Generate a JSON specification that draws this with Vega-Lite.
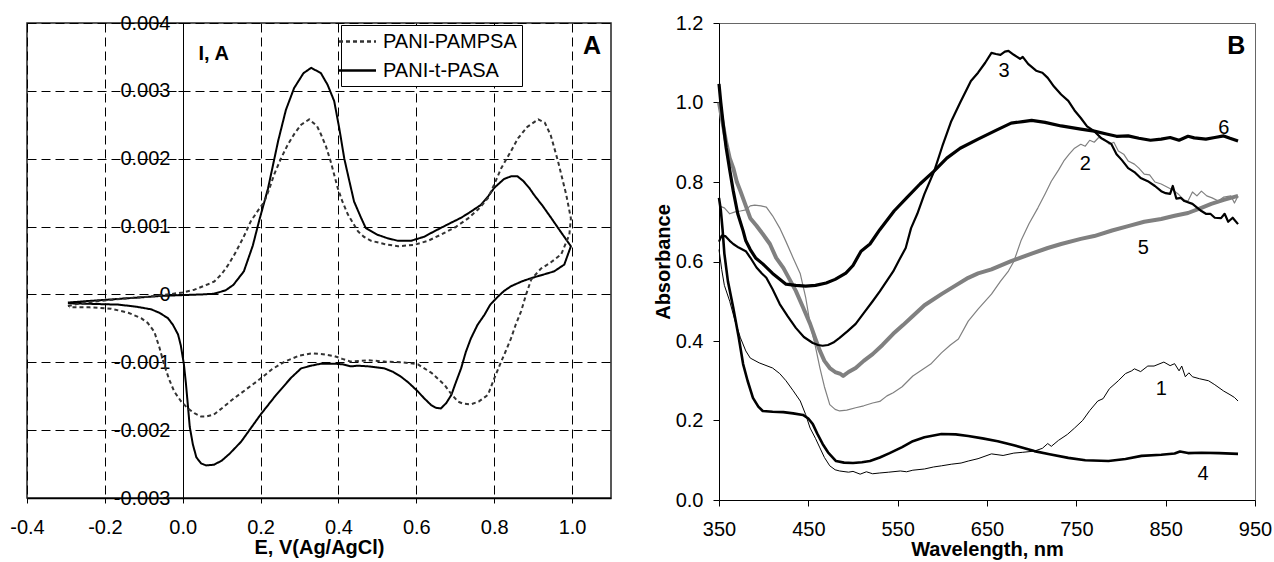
{
"$schema": "https://vega.github.io/schema/vega-lite/v6.json",
"background": "white",
"padding": {"left": 9, "top": 12, "right": 3, "bottom": 3},
"spacing": 40,
"resolve": {"scale": {"color": "independent", "strokeDash": "independent"}, "legend": {"color": "independent", "strokeDash": "independent"}},
"config": {
  "font": "Liberation Sans",
  "view": {"stroke": null},
  "axis": {"labelFont": "Liberation Sans", "titleFont": "Liberation Sans", "labelColor": "black", "titleColor": "black", "domainColor": "black", "tickColor": "black", "labelFontSize": 20, "titleFontSize": 20, "titleFontWeight": "bold", "labelFlush": false},
  "text": {"font": "Liberation Sans", "color": "black"}
},
"datasets": {
  "cv": [
{"s":"PANI-t-PASA","i":1,"E":-0.295,"I":-0.00012},{"s":"PANI-t-PASA","i":2,"E":-0.25,"I":-0.0001},{"s":"PANI-t-PASA","i":3,"E":-0.2,"I":-0.00008},{"s":"PANI-t-PASA","i":4,"E":-0.15,"I":-0.00006},{"s":"PANI-t-PASA","i":5,"E":-0.1,"I":-0.00004},{"s":"PANI-t-PASA","i":6,"E":-0.05,"I":-0.00002},{"s":"PANI-t-PASA","i":7,"E":0.0,"I":-0.00001},{"s":"PANI-t-PASA","i":8,"E":0.05,"I":0.0},{"s":"PANI-t-PASA","i":9,"E":0.08,"I":0.00001},{"s":"PANI-t-PASA","i":10,"E":0.11,"I":0.00006},{"s":"PANI-t-PASA","i":11,"E":0.13,"I":0.00014},{"s":"PANI-t-PASA","i":12,"E":0.157,"I":0.00034},{"s":"PANI-t-PASA","i":13,"E":0.18,"I":0.00072},{"s":"PANI-t-PASA","i":14,"E":0.196,"I":0.00108},{"s":"PANI-t-PASA","i":15,"E":0.219,"I":0.00156},{"s":"PANI-t-PASA","i":16,"E":0.245,"I":0.00226},{"s":"PANI-t-PASA","i":17,"E":0.265,"I":0.00272},{"s":"PANI-t-PASA","i":18,"E":0.286,"I":0.00304},{"s":"PANI-t-PASA","i":19,"E":0.31,"I":0.00326},{"s":"PANI-t-PASA","i":20,"E":0.33,"I":0.00334},{"s":"PANI-t-PASA","i":21,"E":0.355,"I":0.00326},{"s":"PANI-t-PASA","i":22,"E":0.372,"I":0.00309},{"s":"PANI-t-PASA","i":23,"E":0.389,"I":0.00285},{"s":"PANI-t-PASA","i":24,"E":0.402,"I":0.00245},{"s":"PANI-t-PASA","i":25,"E":0.415,"I":0.002},{"s":"PANI-t-PASA","i":26,"E":0.428,"I":0.00167},{"s":"PANI-t-PASA","i":27,"E":0.44,"I":0.00137},{"s":"PANI-t-PASA","i":28,"E":0.458,"I":0.00113},{"s":"PANI-t-PASA","i":29,"E":0.47,"I":0.00098},{"s":"PANI-t-PASA","i":30,"E":0.5,"I":0.00088},{"s":"PANI-t-PASA","i":31,"E":0.525,"I":0.00083},{"s":"PANI-t-PASA","i":32,"E":0.553,"I":0.00079},{"s":"PANI-t-PASA","i":33,"E":0.586,"I":0.00079},{"s":"PANI-t-PASA","i":34,"E":0.62,"I":0.00085},{"s":"PANI-t-PASA","i":35,"E":0.646,"I":0.00093},{"s":"PANI-t-PASA","i":36,"E":0.68,"I":0.00103},{"s":"PANI-t-PASA","i":37,"E":0.715,"I":0.00113},{"s":"PANI-t-PASA","i":38,"E":0.74,"I":0.00122},{"s":"PANI-t-PASA","i":39,"E":0.766,"I":0.00132},{"s":"PANI-t-PASA","i":40,"E":0.785,"I":0.00145},{"s":"PANI-t-PASA","i":41,"E":0.8,"I":0.00157},{"s":"PANI-t-PASA","i":42,"E":0.825,"I":0.0017},{"s":"PANI-t-PASA","i":43,"E":0.843,"I":0.00174},{"s":"PANI-t-PASA","i":44,"E":0.86,"I":0.00174},{"s":"PANI-t-PASA","i":45,"E":0.875,"I":0.00167},{"s":"PANI-t-PASA","i":46,"E":0.89,"I":0.00157},{"s":"PANI-t-PASA","i":47,"E":0.902,"I":0.00147},{"s":"PANI-t-PASA","i":48,"E":0.925,"I":0.0013},{"s":"PANI-t-PASA","i":49,"E":0.946,"I":0.00113},{"s":"PANI-t-PASA","i":50,"E":0.97,"I":0.00093},{"s":"PANI-t-PASA","i":51,"E":0.997,"I":0.00071},
{"s":"PANI-t-PASA","i":52,"E":0.98,"I":0.00044},{"s":"PANI-t-PASA","i":53,"E":0.954,"I":0.00034},{"s":"PANI-t-PASA","i":54,"E":0.925,"I":0.00029},{"s":"PANI-t-PASA","i":55,"E":0.895,"I":0.00024},{"s":"PANI-t-PASA","i":56,"E":0.87,"I":0.00019},{"s":"PANI-t-PASA","i":57,"E":0.843,"I":0.00012},{"s":"PANI-t-PASA","i":58,"E":0.825,"I":0.00005},{"s":"PANI-t-PASA","i":59,"E":0.81,"I":-0.00003},{"s":"PANI-t-PASA","i":60,"E":0.79,"I":-0.00015},{"s":"PANI-t-PASA","i":61,"E":0.775,"I":-0.0003},{"s":"PANI-t-PASA","i":62,"E":0.757,"I":-0.00045},{"s":"PANI-t-PASA","i":63,"E":0.74,"I":-0.00065},{"s":"PANI-t-PASA","i":64,"E":0.727,"I":-0.00085},{"s":"PANI-t-PASA","i":65,"E":0.715,"I":-0.00109},{"s":"PANI-t-PASA","i":66,"E":0.7,"I":-0.00132},{"s":"PANI-t-PASA","i":67,"E":0.69,"I":-0.00148},{"s":"PANI-t-PASA","i":68,"E":0.677,"I":-0.0016},{"s":"PANI-t-PASA","i":69,"E":0.663,"I":-0.00168},{"s":"PANI-t-PASA","i":70,"E":0.65,"I":-0.00167},{"s":"PANI-t-PASA","i":71,"E":0.638,"I":-0.00163},{"s":"PANI-t-PASA","i":72,"E":0.62,"I":-0.00153},{"s":"PANI-t-PASA","i":73,"E":0.604,"I":-0.00143},{"s":"PANI-t-PASA","i":74,"E":0.58,"I":-0.0013},{"s":"PANI-t-PASA","i":75,"E":0.56,"I":-0.00121},{"s":"PANI-t-PASA","i":76,"E":0.54,"I":-0.00114},{"s":"PANI-t-PASA","i":77,"E":0.518,"I":-0.00109},{"s":"PANI-t-PASA","i":78,"E":0.476,"I":-0.00106},{"s":"PANI-t-PASA","i":79,"E":0.45,"I":-0.00105},{"s":"PANI-t-PASA","i":80,"E":0.432,"I":-0.00106},{"s":"PANI-t-PASA","i":81,"E":0.41,"I":-0.00103},{"s":"PANI-t-PASA","i":82,"E":0.39,"I":-0.00102},{"s":"PANI-t-PASA","i":83,"E":0.355,"I":-0.00102},{"s":"PANI-t-PASA","i":84,"E":0.33,"I":-0.00105},{"s":"PANI-t-PASA","i":85,"E":0.304,"I":-0.00109},{"s":"PANI-t-PASA","i":86,"E":0.278,"I":-0.00123},{"s":"PANI-t-PASA","i":87,"E":0.24,"I":-0.00148},{"s":"PANI-t-PASA","i":88,"E":0.2,"I":-0.00177},{"s":"PANI-t-PASA","i":89,"E":0.175,"I":-0.00197},{"s":"PANI-t-PASA","i":90,"E":0.15,"I":-0.00217},{"s":"PANI-t-PASA","i":91,"E":0.12,"I":-0.00235},{"s":"PANI-t-PASA","i":92,"E":0.1,"I":-0.00245},{"s":"PANI-t-PASA","i":93,"E":0.08,"I":-0.00251},{"s":"PANI-t-PASA","i":94,"E":0.06,"I":-0.00252},{"s":"PANI-t-PASA","i":95,"E":0.047,"I":-0.00249},{"s":"PANI-t-PASA","i":96,"E":0.035,"I":-0.0024},{"s":"PANI-t-PASA","i":97,"E":0.026,"I":-0.00221},{"s":"PANI-t-PASA","i":98,"E":0.018,"I":-0.00195},{"s":"PANI-t-PASA","i":99,"E":0.013,"I":-0.00162},{"s":"PANI-t-PASA","i":100,"E":0.008,"I":-0.0013},{"s":"PANI-t-PASA","i":101,"E":0.003,"I":-0.00103},{"s":"PANI-t-PASA","i":102,"E":-0.005,"I":-0.00075},{"s":"PANI-t-PASA","i":103,"E":-0.012,"I":-0.00059},{"s":"PANI-t-PASA","i":104,"E":-0.025,"I":-0.00045},{"s":"PANI-t-PASA","i":105,"E":-0.038,"I":-0.00035},{"s":"PANI-t-PASA","i":106,"E":-0.06,"I":-0.00027},{"s":"PANI-t-PASA","i":107,"E":-0.081,"I":-0.00022},{"s":"PANI-t-PASA","i":108,"E":-0.12,"I":-0.00018},{"s":"PANI-t-PASA","i":109,"E":-0.166,"I":-0.00015},{"s":"PANI-t-PASA","i":110,"E":-0.23,"I":-0.00014},{"s":"PANI-t-PASA","i":111,"E":-0.295,"I":-0.00013},
{"s":"PANI-PAMPSA","i":1,"E":-0.295,"I":-0.00017},{"s":"PANI-PAMPSA","i":2,"E":-0.25,"I":-0.00012},{"s":"PANI-PAMPSA","i":3,"E":-0.2,"I":-0.00009},{"s":"PANI-PAMPSA","i":4,"E":-0.15,"I":-0.00006},{"s":"PANI-PAMPSA","i":5,"E":-0.1,"I":-0.00004},{"s":"PANI-PAMPSA","i":6,"E":-0.05,"I":-0.00001},{"s":"PANI-PAMPSA","i":7,"E":0.0,"I":0.00003},{"s":"PANI-PAMPSA","i":8,"E":0.03,"I":0.00007},{"s":"PANI-PAMPSA","i":9,"E":0.065,"I":0.00015},{"s":"PANI-PAMPSA","i":10,"E":0.081,"I":0.00019},{"s":"PANI-PAMPSA","i":11,"E":0.1,"I":0.0003},{"s":"PANI-PAMPSA","i":12,"E":0.115,"I":0.00042},{"s":"PANI-PAMPSA","i":13,"E":0.133,"I":0.00059},{"s":"PANI-PAMPSA","i":14,"E":0.155,"I":0.00083},{"s":"PANI-PAMPSA","i":15,"E":0.175,"I":0.00108},{"s":"PANI-PAMPSA","i":16,"E":0.195,"I":0.00125},{"s":"PANI-PAMPSA","i":17,"E":0.21,"I":0.00137},{"s":"PANI-PAMPSA","i":18,"E":0.222,"I":0.00155},{"s":"PANI-PAMPSA","i":19,"E":0.235,"I":0.00177},{"s":"PANI-PAMPSA","i":20,"E":0.252,"I":0.002},{"s":"PANI-PAMPSA","i":21,"E":0.27,"I":0.00221},{"s":"PANI-PAMPSA","i":22,"E":0.287,"I":0.00237},{"s":"PANI-PAMPSA","i":23,"E":0.304,"I":0.0025},{"s":"PANI-PAMPSA","i":24,"E":0.325,"I":0.00258},{"s":"PANI-PAMPSA","i":25,"E":0.345,"I":0.00248},{"s":"PANI-PAMPSA","i":26,"E":0.355,"I":0.00236},{"s":"PANI-PAMPSA","i":27,"E":0.368,"I":0.00218},{"s":"PANI-PAMPSA","i":28,"E":0.38,"I":0.00196},{"s":"PANI-PAMPSA","i":29,"E":0.398,"I":0.00157},{"s":"PANI-PAMPSA","i":30,"E":0.41,"I":0.00137},{"s":"PANI-PAMPSA","i":31,"E":0.424,"I":0.00118},{"s":"PANI-PAMPSA","i":32,"E":0.45,"I":0.00093},{"s":"PANI-PAMPSA","i":33,"E":0.465,"I":0.00085},{"s":"PANI-PAMPSA","i":34,"E":0.484,"I":0.00079},{"s":"PANI-PAMPSA","i":35,"E":0.52,"I":0.00074},{"s":"PANI-PAMPSA","i":36,"E":0.553,"I":0.00071},{"s":"PANI-PAMPSA","i":37,"E":0.594,"I":0.00073},{"s":"PANI-PAMPSA","i":38,"E":0.63,"I":0.00079},{"s":"PANI-PAMPSA","i":39,"E":0.663,"I":0.00088},{"s":"PANI-PAMPSA","i":40,"E":0.7,"I":0.00099},{"s":"PANI-PAMPSA","i":41,"E":0.733,"I":0.00112},{"s":"PANI-PAMPSA","i":42,"E":0.76,"I":0.00126},{"s":"PANI-PAMPSA","i":43,"E":0.784,"I":0.00142},{"s":"PANI-PAMPSA","i":44,"E":0.8,"I":0.00162},{"s":"PANI-PAMPSA","i":45,"E":0.818,"I":0.00186},{"s":"PANI-PAMPSA","i":46,"E":0.84,"I":0.00208},{"s":"PANI-PAMPSA","i":47,"E":0.861,"I":0.0023},{"s":"PANI-PAMPSA","i":48,"E":0.885,"I":0.00247},{"s":"PANI-PAMPSA","i":49,"E":0.913,"I":0.00258},{"s":"PANI-PAMPSA","i":50,"E":0.93,"I":0.00253},{"s":"PANI-PAMPSA","i":51,"E":0.945,"I":0.00235},{"s":"PANI-PAMPSA","i":52,"E":0.964,"I":0.00196},{"s":"PANI-PAMPSA","i":53,"E":0.985,"I":0.00147},{"s":"PANI-PAMPSA","i":54,"E":0.997,"I":0.00112},
{"s":"PANI-PAMPSA","i":55,"E":0.993,"I":0.00088},{"s":"PANI-PAMPSA","i":56,"E":0.972,"I":0.00059},{"s":"PANI-PAMPSA","i":57,"E":0.945,"I":0.00047},{"s":"PANI-PAMPSA","i":58,"E":0.92,"I":0.00038},{"s":"PANI-PAMPSA","i":59,"E":0.895,"I":0.00022},{"s":"PANI-PAMPSA","i":60,"E":0.882,"I":0.0},{"s":"PANI-PAMPSA","i":61,"E":0.869,"I":-0.00025},{"s":"PANI-PAMPSA","i":62,"E":0.855,"I":-0.00045},{"s":"PANI-PAMPSA","i":63,"E":0.843,"I":-0.00065},{"s":"PANI-PAMPSA","i":64,"E":0.83,"I":-0.00083},{"s":"PANI-PAMPSA","i":65,"E":0.818,"I":-0.00099},{"s":"PANI-PAMPSA","i":66,"E":0.8,"I":-0.00124},{"s":"PANI-PAMPSA","i":67,"E":0.784,"I":-0.00148},{"s":"PANI-PAMPSA","i":68,"E":0.76,"I":-0.00158},{"s":"PANI-PAMPSA","i":69,"E":0.74,"I":-0.00162},{"s":"PANI-PAMPSA","i":70,"E":0.72,"I":-0.00161},{"s":"PANI-PAMPSA","i":71,"E":0.707,"I":-0.00158},{"s":"PANI-PAMPSA","i":72,"E":0.69,"I":-0.00147},{"s":"PANI-PAMPSA","i":73,"E":0.672,"I":-0.00133},{"s":"PANI-PAMPSA","i":74,"E":0.64,"I":-0.00116},{"s":"PANI-PAMPSA","i":75,"E":0.604,"I":-0.00103},{"s":"PANI-PAMPSA","i":76,"E":0.58,"I":-0.00101},{"s":"PANI-PAMPSA","i":77,"E":0.56,"I":-0.001},{"s":"PANI-PAMPSA","i":78,"E":0.52,"I":-0.00099},{"s":"PANI-PAMPSA","i":79,"E":0.476,"I":-0.00097},{"s":"PANI-PAMPSA","i":80,"E":0.432,"I":-0.00099},{"s":"PANI-PAMPSA","i":81,"E":0.41,"I":-0.00095},{"s":"PANI-PAMPSA","i":82,"E":0.39,"I":-0.00091},{"s":"PANI-PAMPSA","i":83,"E":0.36,"I":-0.00088},{"s":"PANI-PAMPSA","i":84,"E":0.33,"I":-0.00087},{"s":"PANI-PAMPSA","i":85,"E":0.3,"I":-0.0009},{"s":"PANI-PAMPSA","i":86,"E":0.262,"I":-0.00099},{"s":"PANI-PAMPSA","i":87,"E":0.23,"I":-0.0011},{"s":"PANI-PAMPSA","i":88,"E":0.2,"I":-0.00124},{"s":"PANI-PAMPSA","i":89,"E":0.165,"I":-0.00139},{"s":"PANI-PAMPSA","i":90,"E":0.132,"I":-0.00153},{"s":"PANI-PAMPSA","i":91,"E":0.1,"I":-0.00168},{"s":"PANI-PAMPSA","i":92,"E":0.08,"I":-0.00177},{"s":"PANI-PAMPSA","i":93,"E":0.06,"I":-0.0018},{"s":"PANI-PAMPSA","i":94,"E":0.047,"I":-0.0018},{"s":"PANI-PAMPSA","i":95,"E":0.03,"I":-0.00175},{"s":"PANI-PAMPSA","i":96,"E":0.013,"I":-0.00168},{"s":"PANI-PAMPSA","i":97,"E":-0.005,"I":-0.00157},{"s":"PANI-PAMPSA","i":98,"E":-0.022,"I":-0.00143},{"s":"PANI-PAMPSA","i":99,"E":-0.035,"I":-0.00125},{"s":"PANI-PAMPSA","i":100,"E":-0.048,"I":-0.00103},{"s":"PANI-PAMPSA","i":101,"E":-0.06,"I":-0.00078},{"s":"PANI-PAMPSA","i":102,"E":-0.073,"I":-0.00055},{"s":"PANI-PAMPSA","i":103,"E":-0.09,"I":-0.00042},{"s":"PANI-PAMPSA","i":104,"E":-0.107,"I":-0.00035},{"s":"PANI-PAMPSA","i":105,"E":-0.14,"I":-0.00027},{"s":"PANI-PAMPSA","i":106,"E":-0.184,"I":-0.00021},{"s":"PANI-PAMPSA","i":107,"E":-0.24,"I":-0.00019},{"s":"PANI-PAMPSA","i":108,"E":-0.292,"I":-0.00019}
  ],
  "labA": [{"t":"A","E":1.051,"I":0.00366}],
  "uv": [
{"c":"2","wl":350,"abs":0.74},{"c":"2","wl":356,"abs":0.735},{"c":"2","wl":362,"abs":0.72},{"c":"2","wl":368,"abs":0.725},{"c":"2","wl":374,"abs":0.727},{"c":"2","wl":380,"abs":0.73},{"c":"2","wl":385,"abs":0.74},{"c":"2","wl":390,"abs":0.742},{"c":"2","wl":397,"abs":0.74},{"c":"2","wl":403,"abs":0.737},{"c":"2","wl":410,"abs":0.715},{"c":"2","wl":418,"abs":0.684},{"c":"2","wl":425,"abs":0.65},{"c":"2","wl":433,"abs":0.609},{"c":"2","wl":441,"abs":0.569},{"c":"2","wl":447,"abs":0.51},{"c":"2","wl":452,"abs":0.443},{"c":"2","wl":458,"abs":0.385},{"c":"2","wl":463,"abs":0.332},{"c":"2","wl":468,"abs":0.285},{"c":"2","wl":474,"abs":0.24},{"c":"2","wl":480,"abs":0.228},{"c":"2","wl":485,"abs":0.224},{"c":"2","wl":493,"abs":0.226},{"c":"2","wl":503,"abs":0.232},{"c":"2","wl":512,"abs":0.237},{"c":"2","wl":522,"abs":0.244},{"c":"2","wl":530,"abs":0.248},{"c":"2","wl":538,"abs":0.262},{"c":"2","wl":545,"abs":0.27},{"c":"2","wl":555,"abs":0.285},{"c":"2","wl":567,"abs":0.312},{"c":"2","wl":577,"abs":0.327},{"c":"2","wl":587,"abs":0.342},{"c":"2","wl":599,"abs":0.37},{"c":"2","wl":609,"abs":0.39},{"c":"2","wl":618,"abs":0.405},{"c":"2","wl":629,"abs":0.45},{"c":"2","wl":640,"abs":0.48},{"c":"2","wl":655,"abs":0.518},{"c":"2","wl":665,"abs":0.55},{"c":"2","wl":674,"abs":0.576},{"c":"2","wl":680,"abs":0.6},{"c":"2","wl":688,"abs":0.652},{"c":"2","wl":697,"abs":0.695},{"c":"2","wl":707,"abs":0.735},{"c":"2","wl":715,"abs":0.77},{"c":"2","wl":722,"abs":0.802},{"c":"2","wl":730,"abs":0.83},{"c":"2","wl":736,"abs":0.853},{"c":"2","wl":742,"abs":0.87},{"c":"2","wl":748,"abs":0.885},{"c":"2","wl":755,"abs":0.895},{"c":"2","wl":760,"abs":0.89},{"c":"2","wl":765,"abs":0.905},{"c":"2","wl":770,"abs":0.9},{"c":"2","wl":775,"abs":0.912},{"c":"2","wl":781,"abs":0.908},{"c":"2","wl":787,"abs":0.895},{"c":"2","wl":792,"abs":0.9},{"c":"2","wl":797,"abs":0.878},{"c":"2","wl":803,"abs":0.87},{"c":"2","wl":808,"abs":0.853},{"c":"2","wl":815,"abs":0.845},{"c":"2","wl":820,"abs":0.835},{"c":"2","wl":826,"abs":0.82},{"c":"2","wl":832,"abs":0.818},{"c":"2","wl":838,"abs":0.8},{"c":"2","wl":845,"abs":0.795},{"c":"2","wl":852,"abs":0.787},{"c":"2","wl":858,"abs":0.78},{"c":"2","wl":864,"abs":0.77},{"c":"2","wl":870,"abs":0.755},{"c":"2","wl":875,"abs":0.752},{"c":"2","wl":880,"abs":0.775},{"c":"2","wl":885,"abs":0.765},{"c":"2","wl":890,"abs":0.777},{"c":"2","wl":896,"abs":0.765},{"c":"2","wl":902,"abs":0.76},{"c":"2","wl":909,"abs":0.752},{"c":"2","wl":915,"abs":0.762},{"c":"2","wl":923,"abs":0.765},{"c":"2","wl":927,"abs":0.747},{"c":"2","wl":931,"abs":0.765},
{"c":"5","wl":350,"abs":1.0},{"c":"5","wl":354,"abs":0.95},{"c":"5","wl":358,"abs":0.9},{"c":"5","wl":362,"abs":0.86},{"c":"5","wl":366,"abs":0.835},{"c":"5","wl":370,"abs":0.8},{"c":"5","wl":374,"abs":0.777},{"c":"5","wl":380,"abs":0.74},{"c":"5","wl":385,"abs":0.709},{"c":"5","wl":392,"abs":0.69},{"c":"5","wl":399,"abs":0.669},{"c":"5","wl":407,"abs":0.644},{"c":"5","wl":414,"abs":0.609},{"c":"5","wl":422,"abs":0.584},{"c":"5","wl":429,"abs":0.555},{"c":"5","wl":436,"abs":0.526},{"c":"5","wl":444,"abs":0.485},{"c":"5","wl":452,"abs":0.443},{"c":"5","wl":458,"abs":0.405},{"c":"5","wl":463,"abs":0.375},{"c":"5","wl":468,"abs":0.35},{"c":"5","wl":474,"abs":0.332},{"c":"5","wl":480,"abs":0.322},{"c":"5","wl":486,"abs":0.317},{"c":"5","wl":489,"abs":0.312},{"c":"5","wl":495,"abs":0.322},{"c":"5","wl":503,"abs":0.332},{"c":"5","wl":512,"abs":0.35},{"c":"5","wl":522,"abs":0.367},{"c":"5","wl":533,"abs":0.39},{"c":"5","wl":545,"abs":0.418},{"c":"5","wl":556,"abs":0.44},{"c":"5","wl":567,"abs":0.463},{"c":"5","wl":580,"abs":0.49},{"c":"5","wl":599,"abs":0.518},{"c":"5","wl":615,"abs":0.54},{"c":"5","wl":629,"abs":0.559},{"c":"5","wl":640,"abs":0.57},{"c":"5","wl":655,"abs":0.58},{"c":"5","wl":677,"abs":0.601},{"c":"5","wl":700,"abs":0.62},{"c":"5","wl":718,"abs":0.634},{"c":"5","wl":733,"abs":0.644},{"c":"5","wl":755,"abs":0.657},{"c":"5","wl":770,"abs":0.664},{"c":"5","wl":790,"abs":0.678},{"c":"5","wl":808,"abs":0.689},{"c":"5","wl":826,"abs":0.7},{"c":"5","wl":845,"abs":0.707},{"c":"5","wl":860,"abs":0.715},{"c":"5","wl":875,"abs":0.722},{"c":"5","wl":890,"abs":0.735},{"c":"5","wl":901,"abs":0.745},{"c":"5","wl":915,"abs":0.755},{"c":"5","wl":931,"abs":0.765},
{"c":"1","wl":350,"abs":0.63},{"c":"1","wl":353,"abs":0.58},{"c":"1","wl":356,"abs":0.54},{"c":"1","wl":362,"abs":0.5},{"c":"1","wl":368,"abs":0.45},{"c":"1","wl":374,"abs":0.408},{"c":"1","wl":380,"abs":0.375},{"c":"1","wl":385,"abs":0.357},{"c":"1","wl":395,"abs":0.345},{"c":"1","wl":410,"abs":0.332},{"c":"1","wl":418,"abs":0.318},{"c":"1","wl":425,"abs":0.3},{"c":"1","wl":433,"abs":0.275},{"c":"1","wl":441,"abs":0.249},{"c":"1","wl":447,"abs":0.215},{"c":"1","wl":452,"abs":0.181},{"c":"1","wl":458,"abs":0.155},{"c":"1","wl":463,"abs":0.131},{"c":"1","wl":468,"abs":0.107},{"c":"1","wl":474,"abs":0.086},{"c":"1","wl":480,"abs":0.076},{"c":"1","wl":485,"abs":0.073},{"c":"1","wl":495,"abs":0.07},{"c":"1","wl":500,"abs":0.072},{"c":"1","wl":508,"abs":0.065},{"c":"1","wl":515,"abs":0.071},{"c":"1","wl":522,"abs":0.066},{"c":"1","wl":530,"abs":0.068},{"c":"1","wl":540,"abs":0.07},{"c":"1","wl":553,"abs":0.073},{"c":"1","wl":560,"abs":0.071},{"c":"1","wl":567,"abs":0.075},{"c":"1","wl":580,"abs":0.078},{"c":"1","wl":590,"abs":0.083},{"c":"1","wl":599,"abs":0.086},{"c":"1","wl":610,"abs":0.09},{"c":"1","wl":621,"abs":0.093},{"c":"1","wl":629,"abs":0.098},{"c":"1","wl":640,"abs":0.104},{"c":"1","wl":655,"abs":0.116},{"c":"1","wl":668,"abs":0.112},{"c":"1","wl":680,"abs":0.118},{"c":"1","wl":690,"abs":0.12},{"c":"1","wl":703,"abs":0.123},{"c":"1","wl":712,"abs":0.13},{"c":"1","wl":718,"abs":0.142},{"c":"1","wl":722,"abs":0.135},{"c":"1","wl":730,"abs":0.15},{"c":"1","wl":740,"abs":0.165},{"c":"1","wl":748,"abs":0.181},{"c":"1","wl":757,"abs":0.2},{"c":"1","wl":765,"abs":0.225},{"c":"1","wl":774,"abs":0.249},{"c":"1","wl":780,"abs":0.255},{"c":"1","wl":787,"abs":0.28},{"c":"1","wl":797,"abs":0.3},{"c":"1","wl":805,"abs":0.318},{"c":"1","wl":812,"abs":0.325},{"c":"1","wl":815,"abs":0.33},{"c":"1","wl":822,"abs":0.323},{"c":"1","wl":830,"abs":0.337},{"c":"1","wl":837,"abs":0.337},{"c":"1","wl":848,"abs":0.347},{"c":"1","wl":855,"abs":0.338},{"c":"1","wl":860,"abs":0.343},{"c":"1","wl":865,"abs":0.325},{"c":"1","wl":868,"abs":0.337},{"c":"1","wl":872,"abs":0.31},{"c":"1","wl":876,"abs":0.32},{"c":"1","wl":880,"abs":0.31},{"c":"1","wl":888,"abs":0.305},{"c":"1","wl":898,"abs":0.3},{"c":"1","wl":905,"abs":0.29},{"c":"1","wl":915,"abs":0.274},{"c":"1","wl":922,"abs":0.265},{"c":"1","wl":927,"abs":0.258},{"c":"1","wl":931,"abs":0.249},
{"c":"4","wl":350,"abs":0.76},{"c":"4","wl":352,"abs":0.73},{"c":"4","wl":354,"abs":0.68},{"c":"4","wl":356,"abs":0.62},{"c":"4","wl":360,"abs":0.55},{"c":"4","wl":366,"abs":0.483},{"c":"4","wl":372,"abs":0.41},{"c":"4","wl":377,"abs":0.342},{"c":"4","wl":382,"abs":0.3},{"c":"4","wl":388,"abs":0.257},{"c":"4","wl":394,"abs":0.235},{"c":"4","wl":399,"abs":0.224},{"c":"4","wl":410,"abs":0.222},{"c":"4","wl":422,"abs":0.221},{"c":"4","wl":433,"abs":0.218},{"c":"4","wl":444,"abs":0.214},{"c":"4","wl":450,"abs":0.205},{"c":"4","wl":455,"abs":0.191},{"c":"4","wl":460,"abs":0.167},{"c":"4","wl":466,"abs":0.141},{"c":"4","wl":472,"abs":0.12},{"c":"4","wl":481,"abs":0.098},{"c":"4","wl":490,"abs":0.094},{"c":"4","wl":500,"abs":0.093},{"c":"4","wl":510,"abs":0.095},{"c":"4","wl":519,"abs":0.098},{"c":"4","wl":530,"abs":0.107},{"c":"4","wl":541,"abs":0.118},{"c":"4","wl":555,"abs":0.133},{"c":"4","wl":567,"abs":0.148},{"c":"4","wl":580,"abs":0.158},{"c":"4","wl":599,"abs":0.166},{"c":"4","wl":615,"abs":0.165},{"c":"4","wl":629,"abs":0.161},{"c":"4","wl":645,"abs":0.155},{"c":"4","wl":662,"abs":0.148},{"c":"4","wl":680,"abs":0.138},{"c":"4","wl":703,"abs":0.123},{"c":"4","wl":720,"abs":0.115},{"c":"4","wl":741,"abs":0.106},{"c":"4","wl":760,"abs":0.1},{"c":"4","wl":786,"abs":0.098},{"c":"4","wl":805,"abs":0.103},{"c":"4","wl":823,"abs":0.111},{"c":"4","wl":845,"abs":0.114},{"c":"4","wl":860,"abs":0.117},{"c":"4","wl":866,"abs":0.122},{"c":"4","wl":875,"abs":0.118},{"c":"4","wl":890,"abs":0.119},{"c":"4","wl":910,"abs":0.118},{"c":"4","wl":931,"abs":0.116},
{"c":"3","wl":350,"abs":0.65},{"c":"3","wl":353,"abs":0.665},{"c":"3","wl":357,"abs":0.664},{"c":"3","wl":362,"abs":0.652},{"c":"3","wl":366,"abs":0.644},{"c":"3","wl":372,"abs":0.635},{"c":"3","wl":380,"abs":0.626},{"c":"3","wl":385,"abs":0.61},{"c":"3","wl":392,"abs":0.585},{"c":"3","wl":398,"abs":0.57},{"c":"3","wl":403,"abs":0.559},{"c":"3","wl":410,"abs":0.53},{"c":"3","wl":418,"abs":0.493},{"c":"3","wl":427,"abs":0.462},{"c":"3","wl":436,"abs":0.433},{"c":"3","wl":445,"abs":0.41},{"c":"3","wl":455,"abs":0.395},{"c":"3","wl":461,"abs":0.39},{"c":"3","wl":466,"abs":0.388},{"c":"3","wl":472,"abs":0.39},{"c":"3","wl":478,"abs":0.396},{"c":"3","wl":485,"abs":0.408},{"c":"3","wl":494,"abs":0.425},{"c":"3","wl":503,"abs":0.443},{"c":"3","wl":512,"abs":0.47},{"c":"3","wl":522,"abs":0.5},{"c":"3","wl":530,"abs":0.525},{"c":"3","wl":539,"abs":0.555},{"c":"3","wl":545,"abs":0.575},{"c":"3","wl":552,"abs":0.605},{"c":"3","wl":559,"abs":0.634},{"c":"3","wl":565,"abs":0.684},{"c":"3","wl":572,"abs":0.72},{"c":"3","wl":580,"abs":0.77},{"c":"3","wl":591,"abs":0.828},{"c":"3","wl":600,"abs":0.89},{"c":"3","wl":610,"abs":0.953},{"c":"3","wl":620,"abs":1.0},{"c":"3","wl":632,"abs":1.054},{"c":"3","wl":640,"abs":1.075},{"c":"3","wl":648,"abs":1.1},{"c":"3","wl":655,"abs":1.125},{"c":"3","wl":660,"abs":1.122},{"c":"3","wl":665,"abs":1.12},{"c":"3","wl":670,"abs":1.128},{"c":"3","wl":674,"abs":1.13},{"c":"3","wl":680,"abs":1.12},{"c":"3","wl":687,"abs":1.11},{"c":"3","wl":690,"abs":1.115},{"c":"3","wl":696,"abs":1.097},{"c":"3","wl":705,"abs":1.08},{"c":"3","wl":712,"abs":1.075},{"c":"3","wl":718,"abs":1.062},{"c":"3","wl":725,"abs":1.04},{"c":"3","wl":733,"abs":1.02},{"c":"3","wl":741,"abs":1.004},{"c":"3","wl":748,"abs":0.98},{"c":"3","wl":755,"abs":0.961},{"c":"3","wl":762,"abs":0.94},{"c":"3","wl":770,"abs":0.928},{"c":"3","wl":778,"abs":0.91},{"c":"3","wl":789,"abs":0.896},{"c":"3","wl":795,"abs":0.87},{"c":"3","wl":801,"abs":0.855},{"c":"3","wl":808,"abs":0.835},{"c":"3","wl":815,"abs":0.825},{"c":"3","wl":822,"abs":0.81},{"c":"3","wl":830,"abs":0.802},{"c":"3","wl":838,"abs":0.79},{"c":"3","wl":845,"abs":0.777},{"c":"3","wl":850,"abs":0.772},{"c":"3","wl":855,"abs":0.77},{"c":"3","wl":858,"abs":0.79},{"c":"3","wl":862,"abs":0.758},{"c":"3","wl":867,"abs":0.76},{"c":"3","wl":871,"abs":0.752},{"c":"3","wl":880,"abs":0.745},{"c":"3","wl":890,"abs":0.727},{"c":"3","wl":895,"abs":0.72},{"c":"3","wl":900,"abs":0.72},{"c":"3","wl":905,"abs":0.71},{"c":"3","wl":912,"abs":0.709},{"c":"3","wl":916,"abs":0.72},{"c":"3","wl":920,"abs":0.7},{"c":"3","wl":925,"abs":0.71},{"c":"3","wl":931,"abs":0.694},
{"c":"6","wl":350,"abs":1.047},{"c":"6","wl":352,"abs":1.0},{"c":"6","wl":355,"abs":0.94},{"c":"6","wl":358,"abs":0.886},{"c":"6","wl":362,"abs":0.83},{"c":"6","wl":366,"abs":0.777},{"c":"6","wl":371,"abs":0.72},{"c":"6","wl":377,"abs":0.677},{"c":"6","wl":380,"abs":0.652},{"c":"6","wl":385,"abs":0.63},{"c":"6","wl":391,"abs":0.609},{"c":"6","wl":399,"abs":0.594},{"c":"6","wl":410,"abs":0.57},{"c":"6","wl":425,"abs":0.543},{"c":"6","wl":436,"abs":0.54},{"c":"6","wl":447,"abs":0.538},{"c":"6","wl":458,"abs":0.54},{"c":"6","wl":470,"abs":0.546},{"c":"6","wl":480,"abs":0.555},{"c":"6","wl":492,"abs":0.571},{"c":"6","wl":500,"abs":0.59},{"c":"6","wl":509,"abs":0.626},{"c":"6","wl":519,"abs":0.644},{"c":"6","wl":530,"abs":0.68},{"c":"6","wl":546,"abs":0.727},{"c":"6","wl":560,"abs":0.76},{"c":"6","wl":575,"abs":0.795},{"c":"6","wl":591,"abs":0.828},{"c":"6","wl":605,"abs":0.86},{"c":"6","wl":620,"abs":0.885},{"c":"6","wl":640,"abs":0.908},{"c":"6","wl":660,"abs":0.93},{"c":"6","wl":677,"abs":0.948},{"c":"6","wl":690,"abs":0.952},{"c":"6","wl":700,"abs":0.955},{"c":"6","wl":715,"abs":0.95},{"c":"6","wl":733,"abs":0.941},{"c":"6","wl":755,"abs":0.933},{"c":"6","wl":770,"abs":0.928},{"c":"6","wl":785,"abs":0.92},{"c":"6","wl":795,"abs":0.915},{"c":"6","wl":808,"abs":0.916},{"c":"6","wl":820,"abs":0.91},{"c":"6","wl":833,"abs":0.905},{"c":"6","wl":845,"abs":0.908},{"c":"6","wl":855,"abs":0.912},{"c":"6","wl":865,"abs":0.905},{"c":"6","wl":875,"abs":0.915},{"c":"6","wl":882,"abs":0.911},{"c":"6","wl":895,"abs":0.908},{"c":"6","wl":905,"abs":0.912},{"c":"6","wl":915,"abs":0.916},{"c":"6","wl":922,"abs":0.91},{"c":"6","wl":931,"abs":0.903}
  ],
  "labB": [{"t":"1","wl":845,"abs":0.28},{"t":"2","wl":760,"abs":0.845},{"t":"3","wl":669,"abs":1.08},{"t":"4","wl":892,"abs":0.065},{"t":"5","wl":825,"abs":0.634},{"t":"6","wl":915,"abs":0.935}],
  "letB": [{"t":"B","wl":929,"abs":1.142}]
},
"hconcat": [
  {
    "width": 584, "height": 475,
    "view": {"stroke": "#222", "strokeWidth": 1.5},
    "layer": [
      {
        "data": {"name": "cv"},
        "mark": {"type": "line", "strokeWidth": 2, "strokeJoin": "round"},
        "encoding": {
          "x": {"field": "E", "type": "quantitative", "scale": {"domain": [-0.4, 1.1], "nice": false, "zero": false},
                "axis": {"values": [-0.4, -0.2, 0, 0.2, 0.4, 0.6, 0.8, 1.0], "labelExpr": "replace(format(datum.value, '.1f'), '\u2212', '-')", "title": "E, V(Ag/AgCl)", "grid": true, "gridColor": "black", "gridDash": [9, 5], "gridOpacity": 1, "tickSize": 5, "labelPadding": 14, "titlePadding": 0, "domainWidth": 1.5}},
          "y": {"field": "I", "type": "quantitative", "scale": {"domain": [-0.003, 0.004], "nice": false, "zero": false},
                "axis": {"values": [-0.003, -0.002, -0.001, 0, 0.001, 0.002, 0.003, 0.004], "offset": -156, "labelExpr": "abs(datum.value) < 1e-9 ? '0' : replace(format(datum.value, '.3f'), '\u2212', '-')", "title": "I, A", "titleAngle": 0, "titleX": 15, "titleY": 30, "titleAlign": "left", "titleBaseline": "middle", "grid": true, "gridColor": "black", "gridDash": [9, 5], "gridOpacity": 1, "tickSize": 5, "labelPadding": 8}},
          "color": {"field": "s", "type": "nominal", "scale": {"domain": ["PANI-PAMPSA", "PANI-t-PASA"], "range": ["#333333", "black"]},
                    "legend": {"orient": "none", "legendX": 314, "legendY": 2, "title": null, "fillColor": "white", "strokeColor": "black", "padding": 5, "labelFontSize": 20, "labelFont": "Liberation Sans", "labelColor": "black", "symbolType": "M-1.85,0H1.85", "symbolSize": 400, "symbolStrokeWidth": 2.5, "rowPadding": 7, "labelOffset": 14}},
          "strokeDash": {"field": "s", "type": "nominal", "scale": {"domain": ["PANI-PAMPSA", "PANI-t-PASA"], "range": [[4, 3], [1, 0]]},
                    "legend": {"orient": "none", "legendX": 314, "legendY": 2, "title": null, "fillColor": "white", "strokeColor": "black", "padding": 5, "labelFontSize": 20, "labelFont": "Liberation Sans", "labelColor": "black", "symbolType": "M-1.85,0H1.85", "symbolSize": 400, "symbolStrokeWidth": 2.5, "rowPadding": 7, "labelOffset": 14}},
          "order": {"field": "i", "type": "quantitative"}
        }
      },
      {
        "data": {"name": "labA"},
        "mark": {"type": "text", "fontSize": 25, "fontWeight": "bold"},
        "encoding": {
          "x": {"field": "E", "type": "quantitative"},
          "y": {"field": "I", "type": "quantitative"},
          "text": {"field": "t"}
        }
      }
    ]
  },
  {
    "width": 536, "height": 477,
    "view": {"stroke": "#666", "strokeWidth": 1},
    "encoding": {
      "x": {"field": "wl", "type": "quantitative", "scale": {"domain": [350, 950], "nice": false, "zero": false},
            "axis": {"values": [350, 450, 550, 650, 750, 850, 950], "title": "Wavelength, nm", "grid": false, "tickSize": 6, "labelPadding": 13, "titlePadding": 0}},
      "y": {"field": "abs", "type": "quantitative", "scale": {"domain": [0, 1.2], "nice": false},
            "axis": {"values": [0, 0.2, 0.4, 0.6, 0.8, 1.0, 1.2], "format": ".1f", "title": "Absorbance", "grid": false, "tickSize": 6, "labelPadding": 10, "titlePadding": 2}}
    },
    "layer": [
      {"data": {"name": "uv"}, "transform": [{"filter": "datum.c == '2'"}], "mark": {"type": "line", "color": "#808080", "strokeWidth": 1.2, "strokeJoin": "round"}},
      {"data": {"name": "uv"}, "transform": [{"filter": "datum.c == '5'"}], "mark": {"type": "line", "color": "#808080", "strokeWidth": 4, "strokeJoin": "round"}},
      {"data": {"name": "uv"}, "transform": [{"filter": "datum.c == '1'"}], "mark": {"type": "line", "color": "black", "strokeWidth": 1, "strokeJoin": "round"}},
      {"data": {"name": "uv"}, "transform": [{"filter": "datum.c == '4'"}], "mark": {"type": "line", "color": "black", "strokeWidth": 2.6, "strokeJoin": "round"}},
      {"data": {"name": "uv"}, "transform": [{"filter": "datum.c == '3'"}], "mark": {"type": "line", "color": "black", "strokeWidth": 2.2, "strokeJoin": "round"}},
      {"data": {"name": "uv"}, "transform": [{"filter": "datum.c == '6'"}], "mark": {"type": "line", "color": "black", "strokeWidth": 3.2, "strokeJoin": "round"}},
      {
        "data": {"name": "labB"},
        "mark": {"type": "text", "fontSize": 20},
        "encoding": {"text": {"field": "t"}}
      },
      {
        "data": {"name": "letB"},
        "mark": {"type": "text", "fontSize": 25, "fontWeight": "bold"},
        "encoding": {"text": {"field": "t"}}
      }
    ]
  }
]
}
